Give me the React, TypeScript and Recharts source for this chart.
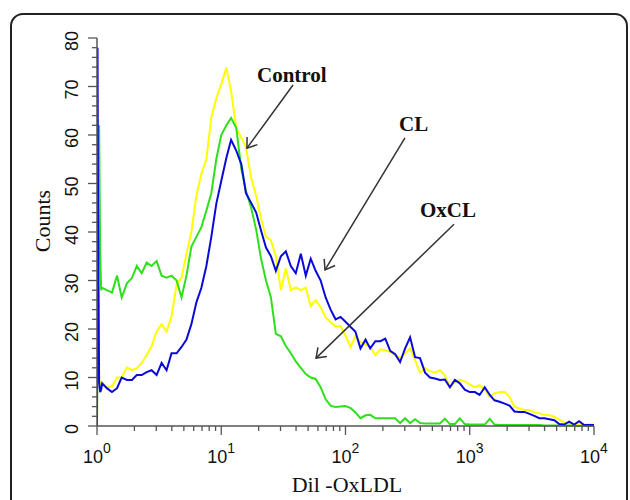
import React from 'react';
import { LineChart, Line, XAxis, YAxis, ReferenceLine, ReferenceDot } from 'recharts';

// fluorescence channels (Dil-OxLDL intensity, log spaced)
const channels = [
  1, 1.01, 1.02, 1.04, 1.06, 1.08,
  1.1, 1.2, 1.32, 1.45, 1.58, 1.74, 1.91, 2.09, 2.29, 2.51, 2.75, 3.02, 3.31, 3.63, 3.98, 4.37, 4.79, 5.25, 5.75, 6.31, 6.92, 7.59, 8.32, 9.12, 10,
  11, 12, 13.2, 14.5, 15.8, 17.4, 19.1, 20.9, 22.9, 25.1, 27.5, 30.2, 33.1, 36.3, 39.8, 43.7, 47.9, 52.5, 57.5, 63.1, 69.2, 75.9, 83.2, 91.2, 100,
  110, 120, 132, 145, 158, 174, 191, 209, 229, 251, 275, 302, 331, 363, 398, 437, 479, 525, 575, 631, 692, 759, 832, 912, 1000,
  1100, 1200, 1320, 1450, 1580, 1740, 1910, 2090, 2290, 2510, 2750, 3020, 3310, 3630, 3980, 4370, 4790, 5250, 5750, 6310, 6920, 7590, 8320, 9120, 10000,
];

// Control (yellow)
const controlCounts = [
  null, null, null, 9.5, 9, 8.5,
  9, 8, 8.2, 10, 10, 12.1, 11.5, 11.9, 13, 14.6, 16.5, 19.5, 21, 19.5, 22.6, 29.2, 30.6, 35.5, 40, 47.5, 52, 55, 63.6, 67.5, 70.5,
  73.9, 69, 61.5, 59.5, 57.5, 51.2, 47.5, 42.8, 39, 38.3, 35, 28, 32.5, 28, 28.6, 28, 28.5, 24.8, 25.9, 24.5, 22.4, 21.4, 20.5, 20.6, 18.6,
  16.3, 18.5, 17.3, 16.8, 16.3, 14.6, 15.8, 15.6, 15.3, 14.6, 14, 15, 16, 13.6, 11, 11.9, 11.3, 11, 11.5, 10.5, 8, 9, 9.5, 9.2, 8.6,
  8, 8.4, 7.5, 6, 6.7, 7, 7, 6, 4, 3.6, 3.3, 3.3, 2.8, 2.6, 2.3, 2.2, 1.9, 1.3, 0.8, 0.5, 0.4, 0.3, 0.3, 0.3, 0.3,
];

// CL (blue)
const clCounts = [
  0, 78, 45, 9, 7, 7.5,
  8.8, 7.8, 7, 7.8, 10, 9.5, 9.5, 10.5, 10.5, 11.1, 11.5, 10.5, 13, 11.5, 15, 15, 16.3, 17.8, 21, 25.5, 28.5, 33, 39, 45.8, 50.5,
  55.3, 59, 56.8, 54, 48, 46, 44, 40.3, 36.8, 35, 32, 35, 36, 33, 31.5, 35.5, 31, 34.5, 32, 30, 26.5, 24, 22, 22.5, 21.5,
  20.4, 19.5, 16, 17.8, 16, 17.5, 17.5, 18, 15.5, 14.8, 13.2, 16, 18.3, 14.2, 14, 11, 10, 9.8, 9.5, 9.6, 8, 9.5, 8.8, 7.5, 7,
  7, 6.4, 8, 6.4, 5.3, 5, 4.6, 4.2, 3, 2.9, 2.9, 2.5, 2.1, 1.6, 1.6, 1.4, 1.2, 0.4, 0.3, 0.9, 0.3, 1, 0.2, 0.2, 0.2,
];

// OxCL (green)
const oxclCounts = [
  0, null, null, 62, 36, 28,
  28.5, 28, 27.5, 31, 26.5, 29.4, 30.5, 33, 31.5, 33.7, 33, 34, 31, 30.6, 31, 30, 26.5, 31, 37, 39, 41, 44.4, 48, 55, 60,
  62, 63.5, 61.5, 53, 48.5, 45, 40.5, 34.5, 30, 26.5, 19, 18.5, 16.5, 15, 13.3, 12, 10.7, 10, 9.7, 8, 5.5, 4.2, 3.9, 4, 4.1,
  3.7, 2.8, 1.6, 2.2, 2.3, 1.6, 1.6, 1.6, 1.6, 1.6, 0.6, 1.6, 0.6, 1.4, 0.6, 0.5, 0.5, 0.5, 0.5, 1.5, 0.4, 0.4, 1.6, 0.4, 0.3,
  0.3, 0.3, 0.3, 1.5, 0.3, 0.2, 0.2, 0.2, 0.2, 0.2, 0.2, 0.2, 0.2, 0.2, 0.1, 0.1, 0.1, 0.1, 0.1, 0.1, 0, 0, 0, 0, 0,
];

const xTicks = [
  1, 2, 3, 4, 5, 6, 7, 8, 9,
  10, 20, 30, 40, 50, 60, 70, 80, 90,
  100, 200, 300, 400, 500, 600, 700, 800, 900,
  1000, 2000, 3000, 4000, 5000, 6000, 7000, 8000, 9000,
  10000,
];
const yTicks = [
  0, 2, 4, 6, 8, 10, 12, 14, 16, 18, 20, 22, 24, 26, 28, 30, 32, 34, 36, 38, 40,
  42, 44, 46, 48, 50, 52, 54, 56, 58, 60, 62, 64, 66, 68, 70, 72, 74, 76, 78, 80,
];

// annotations: name, label anchor, arrow start, arrow tip (data units)
const noteNames = ['Control', 'CL', 'OxCL'];
const noteLabelAt = [[19.4, 70.9], [270, 60.8], [398, 43.1]];
const noteFrom = [[37.8, 70.3], [301, 59.4], [747, 41.6]];
const noteTo = [[16.1, 57.3], [68.4, 32.2], [57.9, 14.0]];

const SANS = '"Liberation Sans", Arial, Helvetica, sans-serif';
const SERIF = '"Liberation Serif", "Times New Roman", serif';
const AXIS = '#555';

const rows = channels.map((x, i) => ({
  x,
  control: controlCounts[i],
  cl: clCounts[i],
  oxcl: oxclCounts[i],
}));

const XTick = ({ x, y, payload }: any) => {
  const p = Math.log10(payload.value);
  const major = Math.abs(p - Math.round(p)) < 1e-6;
  return (
    <g>
      <line x1={x} x2={x} y1={y} y2={y + (major ? 9 : 5)} stroke={AXIS} strokeWidth={1.3} />
      {major && (
        <text x={x} y={y + 37} textAnchor="middle" fontFamily={SANS} fontSize={18} fill="#111">
          10
          <tspan dy={-10} fontSize={14}>
            {Math.round(p)}
          </tspan>
        </text>
      )}
    </g>
  );
};

const YTick = ({ x, y, payload }: any) => {
  const v = payload.value;
  const major = v % 10 === 0;
  return (
    <g>
      <line x1={x} x2={x - (major ? 9 : 5)} y1={y} y2={y} stroke={AXIS} strokeWidth={1.3} />
      {major && (
        <text
          transform={`translate(${x - 19},${y + 3}) rotate(-90)`}
          textAnchor="middle"
          fontFamily={SANS}
          fontSize={18}
          fill="#111"
        >
          {v}
        </text>
      )}
    </g>
  );
};

// straight line with an open chevron at the tip
const Arrow = (props: any) => {
  const { x1, y1, x2, y2 } = props;
  const ang = Math.atan2(y1 - y2, x1 - x2);
  const len = 11;
  const spread = 0.62;
  const a1 = ang + spread;
  const a2 = ang - spread;
  return (
    <g stroke="#333" strokeWidth={1.5} fill="none">
      <line x1={x1} y1={y1} x2={x2} y2={y2} />
      <polyline
        points={`${x2 + len * Math.cos(a1)},${y2 + len * Math.sin(a1)} ${x2},${y2} ${x2 + len * Math.cos(a2)},${y2 + len * Math.sin(a2)}`}
      />
    </g>
  );
};

export default function App() {
  return (
    <div
      style={{
        position: 'absolute',
        left: 0,
        top: 0,
        width: 630,
        height: 500,
        overflow: 'hidden',
        background: '#fff',
      }}
    >
      <div
        style={{
          position: 'absolute',
          left: 10,
          top: 13,
          width: 614,
          height: 540,
          border: '2px solid #222',
          borderRadius: 13,
        }}
      />
      <div style={{ position: 'absolute', left: 0, top: 0 }}>
        <LineChart width={630} height={500} data={rows} margin={{ top: 38, right: 36, bottom: 0, left: 0 }}>
          <XAxis
            dataKey="x"
            type="number"
            scale="log"
            domain={[1, 10000]}
            allowDataOverflow
            ticks={xTicks}
            interval={0}
            tick={<XTick />}
            tickLine={false}
            tickSize={0}
            tickMargin={0}
            height={74}
            axisLine={{ stroke: AXIS, strokeWidth: 1.5 }}
          />
          <YAxis
            type="number"
            domain={[0, 80]}
            ticks={yTicks}
            interval={0}
            tick={<YTick />}
            tickLine={false}
            tickSize={0}
            tickMargin={0}
            width={97}
            axisLine={{ stroke: AXIS, strokeWidth: 1.5 }}
          />
          <Line
            dataKey="control"
            stroke="#FFFF00"
            strokeWidth={2}
            dot={false}
            type="linear"
            isAnimationActive={false}
          />
          <Line
            dataKey="oxcl"
            stroke="#2EE01A"
            strokeWidth={2}
            dot={false}
            type="linear"
            connectNulls
            isAnimationActive={false}
          />
          <Line
            dataKey="cl"
            stroke="#0A0AD8"
            strokeWidth={2}
            dot={false}
            type="linear"
            isAnimationActive={false}
          />
          {noteNames.map((name, i) => (
            <ReferenceLine
              key={`arrow-${name}`}
              segment={[
                { x: noteFrom[i][0], y: noteFrom[i][1] },
                { x: noteTo[i][0], y: noteTo[i][1] },
              ]}
              ifOverflow="visible"
              shape={(p: any) => <Arrow {...p} />}
            />
          ))}
          {noteNames.map((name, i) => (
            <ReferenceDot
              key={`label-${name}`}
              x={noteLabelAt[i][0]}
              y={noteLabelAt[i][1]}
              r={0}
              ifOverflow="visible"
              shape={(p: any) => (
                <text x={p.cx} y={p.cy} fontFamily={SERIF} fontWeight="bold" fontSize={21} fill="#111">
                  {name}
                </text>
              )}
            />
          ))}
        </LineChart>
      </div>
      <svg width={630} height={500} style={{ position: 'absolute', left: 0, top: 0, pointerEvents: 'none' }}>
        <text transform="translate(50,221) rotate(-90)" textAnchor="middle" fontFamily={SERIF} fontSize={22} fill="#111">
          Counts
        </text>
        <text x={347} y={492} textAnchor="middle" fontFamily={SERIF} fontSize={22} fill="#111">
          Dil -OxLDL
        </text>
      </svg>
    </div>
  );
}
